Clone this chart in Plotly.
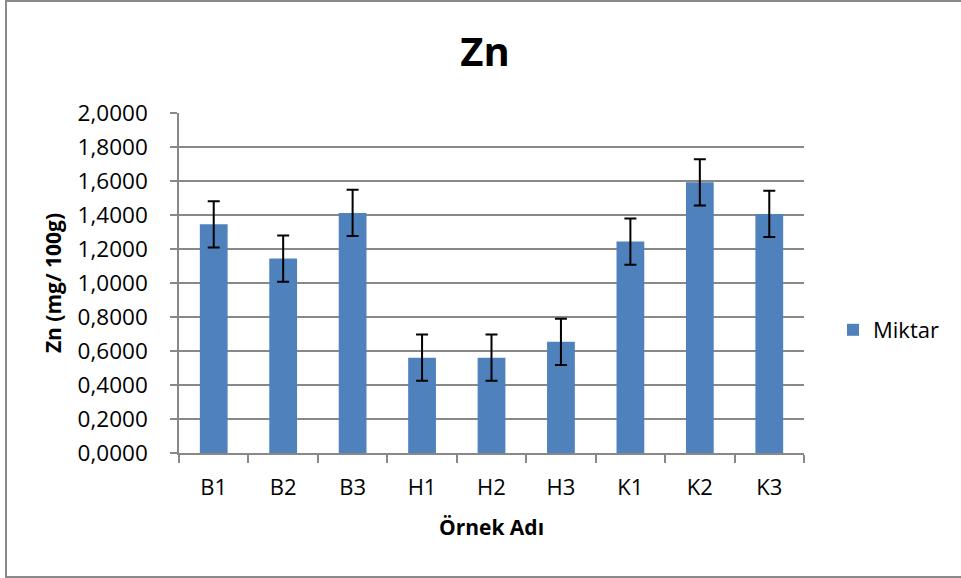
import plotly.graph_objects as go

categories = ["B1", "B2", "B3", "H1", "H2", "H3", "K1", "K2", "K3"]
miktar = [1.345, 1.144, 1.412, 0.561, 0.561, 0.654, 1.244, 1.592, 1.406]
errors = [0.136, 0.136, 0.136, 0.136, 0.136, 0.136, 0.136, 0.136, 0.136]
y_ticks = [0.0, 0.2, 0.4, 0.6, 0.8, 1.0, 1.2, 1.4, 1.6, 1.8, 2.0]
y_tick_labels = ["0,0000", "0,2000", "0,4000", "0,6000", "0,8000", "1,0000",
                 "1,2000", "1,4000", "1,6000", "1,8000", "2,0000"]

FONT = "Open Sans"
GRID = "#888888"

L, R, T, B = 179, 804, 113, 453
W, H = 961, 578
pw, ph = R - L, B - T

fig = go.Figure()
fig.add_trace(go.Bar(
    x=categories, y=miktar, name="Miktar",
    marker=dict(color="#4F81BD", line=dict(width=0)),
    error_y=dict(type="data", array=errors, visible=True,
                 color="black", thickness=2, width=6),
))

fig.update_layout(
    width=W, height=H,
    margin=dict(l=L, r=W - R, t=T, b=H - B),
    paper_bgcolor="white", plot_bgcolor="white",
    bargap=0.6,
    font=dict(family=FONT, size=22, color="black"),
    title=dict(text="<b>Zn</b>", font=dict(family=FONT, size=40, color="black"),
               x=(485 - L) / pw, xref="paper", xanchor="center",
               y=1 - 52 / H, yref="container", yanchor="middle"),
    showlegend=True,
    legend=dict(x=(833 - L) / pw, xanchor="left", y=(B - 330) / ph,
                yanchor="middle",
                font=dict(family=FONT, size=22, color="black"),
                bgcolor="rgba(0,0,0,0)", itemwidth=30),
    xaxis=dict(
        type="category", showline=True, linecolor=GRID, linewidth=1.5,
        ticks="outside", tickson="boundaries", ticklen=8, tickcolor=GRID, tickwidth=1.5,
        showgrid=False,
        tickfont=dict(family=FONT, size=22, color="black"),
        title=dict(text="<b>Örnek Adı</b>", font=dict(family=FONT, size=21, color="black"),
                   standoff=20),
        ticklabelstandoff=14,
    ),
    yaxis=dict(
        range=[0, 2.0], tickvals=y_ticks, ticktext=y_tick_labels,
        showline=True, linecolor=GRID, linewidth=1.5,
        ticks="outside", ticklen=7, tickcolor=GRID, tickwidth=1.5,
        showgrid=True, gridcolor=GRID, gridwidth=1.5, zeroline=False,
        tickfont=dict(family=FONT, size=22.5, color="black"),
        title=dict(text="<b>Zn (mg/ 100g)</b>", font=dict(family=FONT, size=21, color="black"),
                   standoff=10),
        ticklabelstandoff=18,
    ),
)

# chart outer border (right edge lies beyond the window)
fig.add_shape(type="rect", xref="paper", yref="paper",
              x0=(6 - L) / pw, x1=(975 - L) / pw,
              y0=(B - 577) / ph, y1=(B - 1) / ph,
              line=dict(color="#898989", width=2), fillcolor="rgba(0,0,0,0)",
              layer="below")

# remove the default 8px page margin so the figure sits at the window origin
fig.write_html("out.html",
               config={"displayModeBar": False},
               post_script="document.body.style.margin='0';document.body.style.overflow='hidden';")
